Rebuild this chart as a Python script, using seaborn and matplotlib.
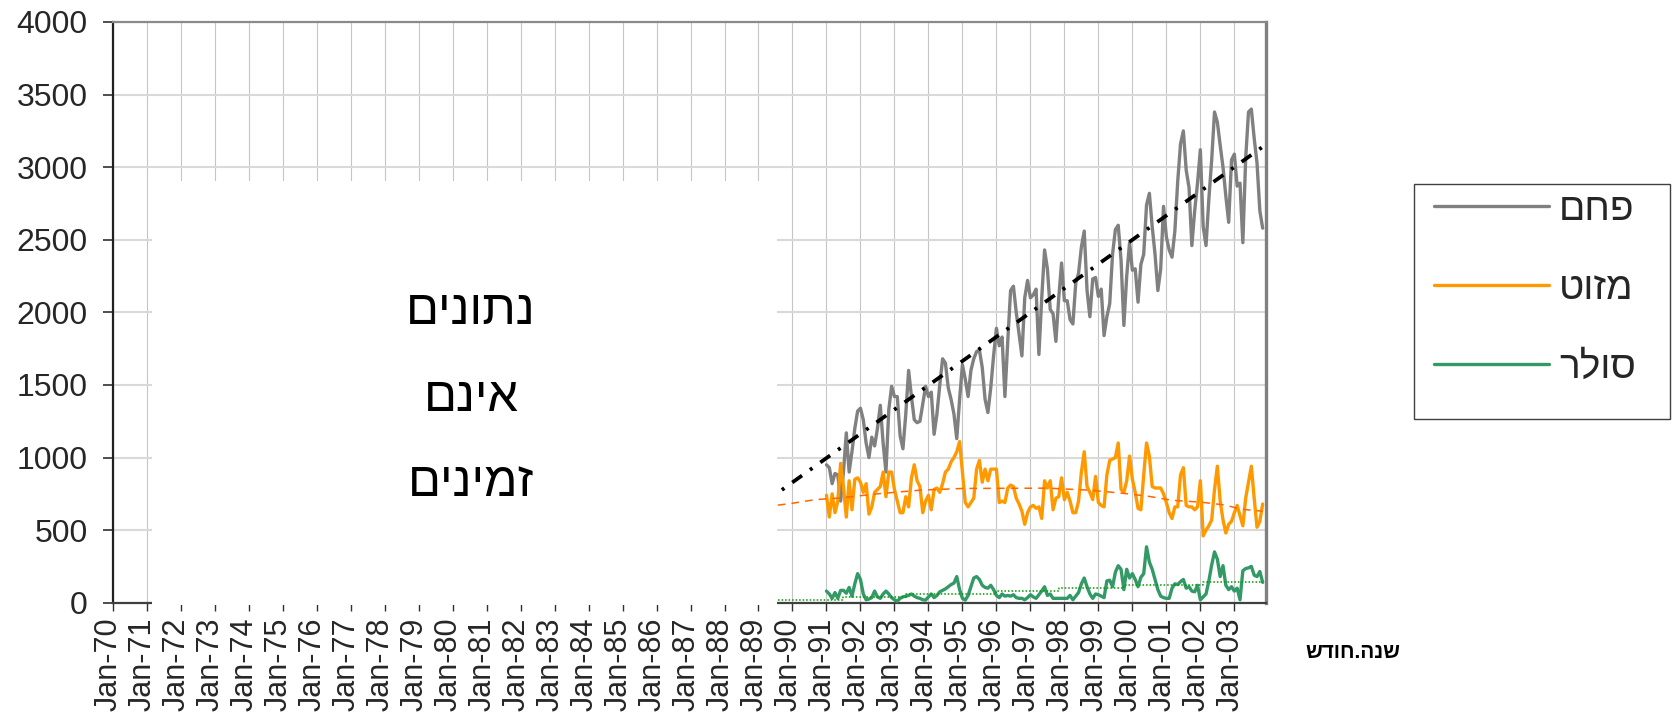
import numpy as np
import pandas as pd
import matplotlib
matplotlib.use("Agg")
import matplotlib.pyplot as plt
import matplotlib.transforms as mtransforms
from matplotlib.patches import Rectangle
from matplotlib.lines import Line2D
import seaborn as sns

# ---------------- data ----------------
tick_labels = ["Jan-70", "Jan-71", "Jan-72", "Jan-73", "Jan-74", "Jan-75", "Jan-76",
               "Jan-77", "Jan-78", "Jan-79", "Jan-80", "Jan-81", "Jan-82", "Jan-83",
               "Jan-84", "Jan-85", "Jan-86", "Jan-87", "Jan-88", "Jan-89", "Jan-90",
               "Jan-91", "Jan-92", "Jan-93", "Jan-94", "Jan-95", "Jan-96", "Jan-97",
               "Jan-98", "Jan-99", "Jan-00", "Jan-01", "Jan-02", "Jan-03"]
axis_start = "1970-01"
axis_end = "2003-12"
data_start = "1991-01"

series_names = ["פחם", "מזוט", "סולר"]
series_colors = ["#808080", "#FF9900", "#339966"]
x_title = "שנה.חודש"
no_data_lines = ["נתונים", "אינם", "זמינים"]

coal = [950, 930, 820, 890, 880, 700, 900, 1170, 900, 1040, 1200, 1320,
        1340, 1260, 1100, 1000, 1140, 1080, 1200, 1360, 1100, 900, 1330, 1490,
        1420, 1420, 1150, 1060, 1300, 1600, 1420, 1260, 1240, 1250, 1370, 1490,
        1420, 1450, 1160, 1300, 1500, 1680, 1650, 1480, 1400, 1300, 1130, 1400,
        1640, 1540, 1420, 1600, 1680, 1730, 1740, 1620, 1400, 1310, 1480, 1700,
        1890, 1770, 1830, 1420, 1800, 2150, 2180, 2000, 1850, 1700, 2100, 2220,
        2100, 2120, 2160, 1710, 2100, 2430, 2300, 2020, 1990, 1800, 2100, 2340,
        2080, 2080, 1950, 1920, 2200, 2270, 2450, 2560, 2150, 1970, 2230, 2240,
        2110, 2160, 1840, 1970, 2060, 2400, 2570, 2600, 2360, 1910, 2250, 2480,
        2290, 2300, 2070, 2330, 2400, 2740, 2820, 2590, 2400, 2150, 2300, 2730,
        2520, 2430, 2380, 2560, 2900, 3160, 3250, 2980, 2860, 2460, 2700, 2890,
        3120, 2590, 2460, 2780, 3050, 3380, 3310, 3150, 3000, 2800, 2620, 3050,
        3090, 2870, 2890, 2480, 3060, 3380, 3400, 3200, 3030, 2700, 2580]

mazut = [740, 590, 750, 620, 700, 960, 800, 590, 840, 640, 850, 860,
         830, 760, 820, 610, 660, 760, 780, 800, 900, 730, 900, 900,
         780, 700, 620, 620, 730, 660, 860, 950, 840, 800, 620, 700,
         740, 640, 780, 790, 760, 820, 900, 920, 970, 1000, 1040, 1110,
         900, 690, 660, 690, 720, 920, 980, 830, 920, 840, 920, 920,
         920, 690, 700, 690, 790, 810, 800, 720, 680, 630, 540, 620,
         660, 670, 650, 660, 580, 840, 790, 840, 640, 720, 730, 860,
         710, 760, 700, 620, 620, 700, 900, 1040, 800, 760, 710, 870,
         690, 670, 660, 880, 980, 990, 1000, 1100, 780, 760, 840, 1010,
         850, 760, 650, 640, 880, 1100, 1010, 800, 790, 790, 790, 750,
         690, 620, 580, 660, 660, 880, 930, 670, 660, 660, 640, 660,
         840, 460, 500, 530, 570, 780, 940, 700, 570, 480, 540, 560,
         620, 670, 600, 530, 720, 830, 940, 720, 520, 560, 680]

solar = [80, 60, 30, 70, 30, 85, 85, 65, 105, 45, 130, 200,
         160, 60, 20, 25, 35, 80, 40, 30, 60, 80, 60, 35,
         20, 10, 30, 40, 45, 50, 60, 45, 35, 30, 20, 18,
         40, 60, 35, 50, 75, 85, 95, 110, 125, 135, 180, 90,
         30, 18, 50, 110, 170, 180, 160, 120, 105, 100, 120, 90,
         50, 35, 60, 45, 50, 45, 55, 35, 30, 30, 20, 35,
         55, 40, 30, 55, 80, 110, 50, 60, 30, 30, 30, 30,
         30, 30, 50, 20, 45, 70, 130, 170, 110, 60, 30, 60,
         55, 45, 35, 150, 155, 110, 210, 255, 230, 90, 230, 170,
         200, 160, 110, 175, 200, 385, 280, 230, 160, 90, 45, 35,
         30, 30, 100, 130, 125, 145, 160, 100, 110, 80, 75, 120,
         20, 40, 60, 150, 260, 350, 300, 180, 255, 120, 90, 110,
         80, 100, 20, 220, 235, 240, 250, 190, 180, 215, 140]

# trend lines
coal_trend_dates = ["1989-03", "2003-11"]
coal_trend = [690, 3140]
mazut_trend_dates = ["1989-03", "1990-01", "1990-09", "1991-05", "1992-07", "1993-10",
                     "1995-01", "1997-07", "1998-10", "1999-10", "2000-07", "2001-03",
                     "2002-01", "2002-10", "2003-03", "2003-11"]
mazut_trend = [660, 685, 710, 720, 750, 775, 787, 789, 775, 753, 732, 705,
               693, 672, 645, 630]
solar_trend_dates = ["1989-03", "1991-07", "1993-05", "1996-01", "1997-11",
                     "1999-10", "2002-02", "2003-11"]
solar_trend = [22, 40, 62, 83, 103, 122, 140, 140]


def month_index(dates):
    p = pd.PeriodIndex(dates, freq="M")
    base = pd.Period(axis_start, freq="M")
    return np.array([(q - base).n for q in p], dtype=float)


n = len(coal)
data_months = month_index(pd.period_range(data_start, periods=n, freq="M").astype(str))
frames = []
for name, vals in zip(series_names, [coal, mazut, solar]):
    frames.append(pd.DataFrame({"month": data_months, "value": vals, "series": name}))
df = pd.concat(frames, ignore_index=True)

# ---------------- style ----------------
sns.set_style("white")
plt.rcParams["font.family"] = ["Liberation Sans", "DejaVu Sans"]

W, H = 1673, 716
fig = plt.figure(figsize=(W / 100, H / 100), dpi=100)
ax_left, ax_right, ax_top, ax_bottom = 112.7, 1265.5, 22.0, 602.7
ax = fig.add_axes([ax_left / W, 1 - ax_bottom / H, (ax_right - ax_left) / W,
                   (ax_bottom - ax_top) / H])

palette = dict(zip(series_names, series_colors))
sns.lineplot(data=df, x="month", y="value", hue="series", palette=palette,
             estimator=None, linewidth=2.4, legend=False, ax=ax, zorder=3)

sns.lineplot(x=month_index(coal_trend_dates), y=coal_trend, color="black",
             linewidth=2.7, linestyle=(0, (3.2, 2.6, 0.8, 2.6)), ax=ax, zorder=4)
sns.lineplot(x=month_index(mazut_trend_dates), y=mazut_trend, color="#FF6600",
             linewidth=1.1, linestyle=(0, (5, 4)), ax=ax, zorder=4)
sns.lineplot(x=month_index(solar_trend_dates), y=solar_trend, color="#009900",
             linewidth=1.1, linestyle=(0, (1, 1.3)), drawstyle="steps-post",
             ax=ax, zorder=4)

total_months = month_index([axis_end])[0]
ax.set_xlim(0, total_months)
ax.set_ylim(0, 4000)
ax.set_yticks(np.arange(0, 4001, 500))
ax.set_xticks(np.arange(0, 12 * len(tick_labels), 12))
ax.set_xticklabels(tick_labels, rotation=90)
ax.set_xlabel("")
ax.set_ylabel("")

ax.yaxis.grid(True, color="#d9d9d9", linewidth=1.5)
ax.xaxis.grid(True, color="#c6c6c6", linewidth=0.8)
ax.set_axisbelow(True)

ax.tick_params(axis="y", direction="out", length=7, width=1.2, color="#303030",
               pad=11, labelsize=23, left=True)
ax.tick_params(axis="x", direction="out", length=5.5, width=1.0, color="#303030",
               pad=5, labelsize=22, bottom=True)

for side, col, lw in [("left", "#202020", 1.6), ("bottom", "#404040", 1.6),
                      ("top", "#8a8a8a", 1.6), ("right", "#808080", 2.4)]:
    ax.spines[side].set_visible(True)
    ax.spines[side].set_color(col)
    ax.spines[side].set_linewidth(lw)

offset = mtransforms.ScaledTranslation(-4 / 100, 0, fig.dpi_scale_trans)
for lab in ax.get_xticklabels():
    lab.set_transform(lab.get_transform() + offset)

# "no data" white box
bx0, bx1, by0, by1 = 151.7, 776.7, 180.7, 604.6
fig.patches.append(Rectangle((bx0 / W, 1 - by1 / H), (bx1 - bx0) / W, (by1 - by0) / H,
                             transform=fig.transFigure, facecolor="white",
                             edgecolor="none", zorder=5))
for txt, ypix in zip(no_data_lines, [311, 399, 484]):
    fig.text(471 / W, 1 - ypix / H, txt[::-1], ha="center", va="center",
             fontsize=35, color="black", zorder=6)

# x-axis title
fig.text(1353 / W, 1 - 652 / H, x_title[::-1], ha="center", va="center",
         fontsize=15, fontweight="bold", color="black")

# legend
lx0, lx1, ly0, ly1 = 1414, 1670, 184, 419
fig.patches.append(Rectangle((lx0 / W, 1 - ly1 / H), (lx1 - lx0) / W, (ly1 - ly0) / H,
                             transform=fig.transFigure, facecolor="white",
                             edgecolor="#404040", linewidth=1.0, zorder=1))
handles = [Line2D([0], [0], color=c, linewidth=2.4) for c in series_colors]
leg = fig.legend(handles, [s[::-1] for s in series_names], loc="upper left",
                 bbox_to_anchor=(1434 / W, 1 - 192 / H), frameon=False,
                 fontsize=28, handlelength=2.96, handletextpad=0.26,
                 labelspacing=1.1, borderpad=0, borderaxespad=0)
leg.set_zorder(2)

fig.savefig("out.png", dpi=100, facecolor="white")
